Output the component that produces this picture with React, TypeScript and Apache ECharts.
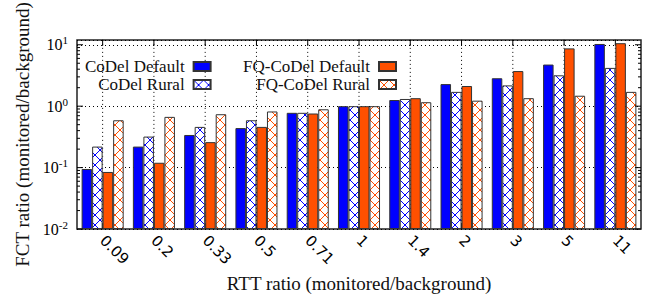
import React, { useEffect, useRef } from 'react';
import * as echarts from 'echarts';

const categories = ['0.09', '0.2', '0.33', '0.5', '0.71', '1', '1.4', '2', '3', '5', '11'];
const codelDefault = [0.095, 0.22, 0.34, 0.44, 0.78, 1.0, 1.26, 2.29, 2.85, 4.76, 10.3];
const codelRural = [0.22, 0.32, 0.46, 0.59, 0.78, 1.0, 1.31, 1.71, 2.18, 3.18, 4.2];
const fqDefault = [0.085, 0.12, 0.26, 0.46, 0.76, 1.0, 1.35, 2.13, 3.73, 8.73, 10.6];
const fqRural = [0.59, 0.67, 0.74, 0.82, 0.89, 1.0, 1.16, 1.23, 1.35, 1.48, 1.71];
const majorTicks = [0.01, 0.1, 1, 10];
const minorTicks = [
  0.02, 0.03, 0.04, 0.05, 0.06, 0.07, 0.08, 0.09,
  0.2, 0.3, 0.4, 0.5, 0.6, 0.7, 0.8, 0.9,
  2, 3, 4, 5, 6, 7, 8, 9,
];

const SERIF = 'Liberation Serif';
const BLUE = '#0000ff';
const ORANGE = '#ff5000';

function hatch(color: string) {
  const c = document.createElement('canvas');
  c.width = 10;
  c.height = 10;
  const ctx = c.getContext('2d')!;
  ctx.fillStyle = '#ffffff';
  ctx.fillRect(0, 0, 10, 10);
  ctx.strokeStyle = color;
  ctx.lineWidth = 1;
  ctx.beginPath();
  ctx.moveTo(0, 0);
  ctx.lineTo(10, 10);
  ctx.moveTo(10, 0);
  ctx.lineTo(0, 10);
  ctx.stroke();
  return { image: c, repeat: 'repeat', imageWidth: 10, imageHeight: 10 } as any;
}

export default function App() {
  const ref = useRef<HTMLDivElement>(null);
  useEffect(() => {
    document.body.style.margin = '0';
    const chart = echarts.init(ref.current!, null, { renderer: 'svg' });
    const barStyle = { borderColor: '#333', borderWidth: 1 };
    const legendCommon = {
      orient: 'vertical',
      align: 'right',
      top: 58,
      itemWidth: 17,
      itemHeight: 9,
      itemGap: 1,
      padding: 0,
      icon: 'rect',
      textStyle: { fontFamily: SERIF, fontSize: 17, color: '#111', padding: [0, 4, 0, 0] },
    };
    const option: any = {
      animation: false,
      backgroundColor: '#fff',
      grid: {
        left: 77,
        right: 14,
        top: 36,
        bottom: 67,
        show: true,
        borderColor: '#222',
        borderWidth: 1.5,
        backgroundColor: 'transparent',
      },
      legend: [
        { ...legendCommon, left: 85, data: ['CoDel Default', 'CoDel Rural'] },
        { ...legendCommon, left: 243, data: ['FQ-CoDel Default', 'FQ-CoDel Rural'] },
      ],
      xAxis: {
        type: 'category',
        data: categories,
        axisLine: { show: false },
        axisTick: { show: false },
        splitLine: { show: false },
        axisLabel: {
          rotate: -45,
          margin: 9,
          fontFamily: 'DejaVu Sans',
          fontSize: 15,
          color: '#000',
        },
        name: 'RTT ratio (monitored/background)',
        nameLocation: 'middle',
        nameGap: 43,
        nameTextStyle: { fontFamily: SERIF, fontSize: 19, color: '#111' },
      },
      yAxis: {
        type: 'log',
        logBase: 10,
        min: 0.01,
        max: 12,
        startValue: 0.01,
        axisLine: { show: false },
        axisTick: { show: false },
        splitLine: { show: true, lineStyle: { color: '#000', type: [1, 3], width: 1 } },
        axisLabel: {
          margin: 9,
          color: '#000',
          fontFamily: SERIF,
          fontSize: 16,
          formatter: (v: number) => {
            const k = Math.round(Math.log10(v));
            if (Math.abs(v - Math.pow(10, k)) > 1e-9 * Math.max(1, v)) return '';
            return '10{sup|' + k + '}';
          },
          rich: {
            sup: { fontFamily: SERIF, fontSize: 11, color: '#000', padding: [0, 0, 9, 0] },
          },
        },
        name: 'FCT ratio (monitored/background)',
        nameLocation: 'middle',
        nameGap: 44,
        nameTextStyle: { fontFamily: SERIF, fontSize: 19, color: '#111' },
      },
      series: [
        {
          type: 'custom',
          silent: true,
          z: 1,
          data: categories.map((_, i) => [i, 1]),
          renderItem: (params: any, api: any) => {
            const cs = params.coordSys;
            const x = api.coord([api.value(0), 1])[0];
            return {
              type: 'group',
              children: [
                { type: 'line', shape: { x1: x, y1: cs.y, x2: x, y2: cs.y + cs.height }, style: { stroke: '#000', lineWidth: 1, lineDash: [1, 3] } },
                { type: 'line', shape: { x1: x, y1: cs.y, x2: x, y2: cs.y + 6 }, style: { stroke: '#000', lineWidth: 1 } },
                { type: 'line', shape: { x1: x, y1: cs.y + cs.height - 6, x2: x, y2: cs.y + cs.height }, style: { stroke: '#000', lineWidth: 1 } },
              ],
            };
          },
        },
        {
          type: 'custom',
          silent: true,
          z: 5,
          data: [...majorTicks.map((v) => [0, v, 6]), ...minorTicks.map((v) => [0, v, 3])],
          renderItem: (params: any, api: any) => {
            const cs = params.coordSys;
            const y = api.coord([0, api.value(1)])[1];
            const len = api.value(2);
            return {
              type: 'group',
              children: [
                { type: 'line', shape: { x1: cs.x, y1: y, x2: cs.x + len, y2: y }, style: { stroke: '#000', lineWidth: 1 } },
                { type: 'line', shape: { x1: cs.x + cs.width - len, y1: y, x2: cs.x + cs.width, y2: y }, style: { stroke: '#000', lineWidth: 1 } },
              ],
            };
          },
        },
        {
          name: 'CoDel Default', type: 'bar', z: 2, data: codelDefault,
          barGap: '0%', barCategoryGap: '18%',
          itemStyle: { color: BLUE, ...barStyle },
        },
        {
          name: 'CoDel Rural', type: 'bar', z: 2, data: codelRural,
          barGap: '0%', barCategoryGap: '18%',
          itemStyle: { color: hatch(BLUE), ...barStyle },
        },
        {
          name: 'FQ-CoDel Default', type: 'bar', z: 2, data: fqDefault,
          barGap: '0%', barCategoryGap: '18%',
          itemStyle: { color: ORANGE, ...barStyle },
        },
        {
          name: 'FQ-CoDel Rural', type: 'bar', z: 2, data: fqRural,
          barGap: '0%', barCategoryGap: '18%',
          itemStyle: { color: hatch(ORANGE), ...barStyle },
        },
      ],
    };
    chart.setOption(option);
    return () => chart.dispose();
  }, []);
  return <div ref={ref} style={{ width: 655, height: 298 }} />;
}
